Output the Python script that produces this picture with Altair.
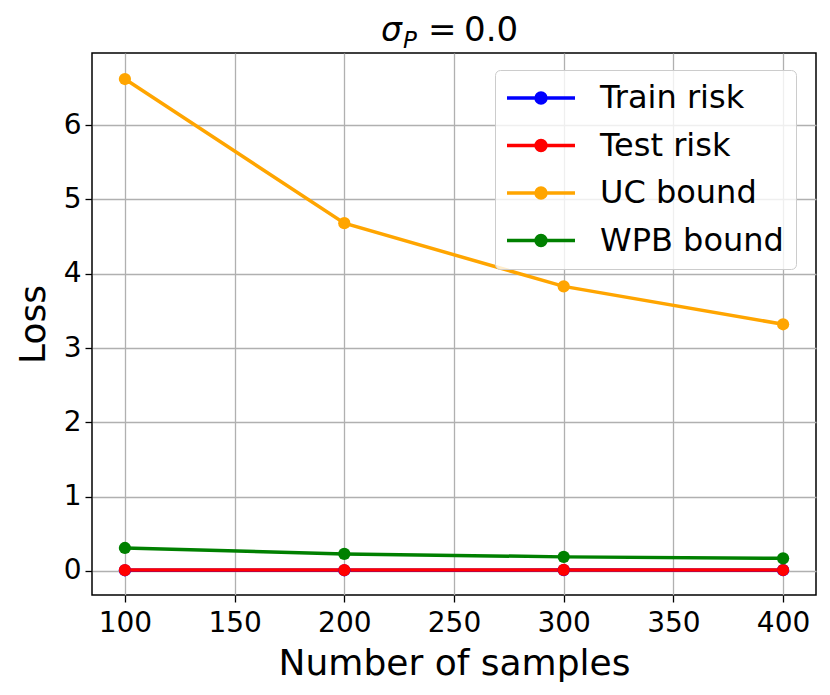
import altair as alt
import pandas as pd

samples = [100, 200, 300, 400]
train_risk = [0.010, 0.010, 0.012, 0.011]
test_risk = [0.012, 0.012, 0.014, 0.013]
uc_bound = [6.62, 4.68, 3.83, 3.32]
wpb_bound = [0.31, 0.23, 0.19, 0.17]
series_names = ["Train risk", "Test risk", "UC bound", "WPB bound"]
series_colors = ["#0000ff", "#ff0000", "#ffa500", "#008000"]
x_ticks = [100, 150, 200, 250, 300, 350, 400]
y_ticks = [0, 1, 2, 3, 4, 5, 6]

rows = []
for name, vals in zip(series_names, [train_risk, test_risk, uc_bound, wpb_bound]):
    for s, v in zip(samples, vals):
        rows.append({"samples": s, "loss": v, "series": name})
df = pd.DataFrame(rows)

FONT = "DejaVu Sans"

# legend symbol: a line with a filled dot (concentric rings fill the dot)
SYM = 784                    # symbol area -> unit scale = sqrt(784)/2 = 14 px
unit = (SYM ** 0.5) / 2
half_len = 34 / unit
rings = ""
for rpx in [5.0, 3.5, 2.0, 0.7]:
    r = round(rpx / unit, 4)
    rings += f"M{r},0A{r},{r},0,1,1,{-r},0A{r},{r},0,1,1,{r},0Z"
legend_path = f"M{-half_len:.4f},0L{half_len:.4f},0" + rings

legend = alt.Legend(
    title=None, orient="none", legendX=403, legendY=17,
    symbolType=legend_path, symbolSize=SYM, symbolStrokeWidth=3.4,
    symbolOpacity=1, symbolOffset=18,
    labelFont=FONT, labelFontSize=32, labelColor="black", labelOffset=43,
    labelLimit=400,
    rowPadding=15.5, padding=12,
    fillColor="rgba(255,255,255,0.8)", strokeColor="#cccccc", cornerRadius=5,
)

color = alt.Color("series:N", scale=alt.Scale(domain=series_names, range=series_colors),
                  legend=legend, sort=series_names)

x_enc = alt.X("samples:Q",
              scale=alt.Scale(domain=[85, 415], nice=False, zero=False),
              axis=alt.Axis(values=x_ticks, title="Number of samples", labelPadding=7,
                            titleY=79, titleX=362, titleBaseline="alphabetic", titleAlign="center"))
y_enc = alt.Y("loss:Q",
              scale=alt.Scale(domain=[-0.323, 6.97], nice=False, zero=False),
              axis=alt.Axis(values=y_ticks, title="Loss", labelPadding=4,
                            titleX=-48, titleY=271, titleAngle=270,
                            titleBaseline="alphabetic", titleAlign="center"))

base = alt.Chart(df)
lines = base.mark_line(strokeWidth=3.5).encode(x=x_enc, y=y_enc, color=color, detail="series:N")
points = base.mark_point(filled=True, size=150, opacity=1).encode(x=x_enc, y=y_enc, color=color)

one = pd.DataFrame({"k": [0]})
def title_text(txt, x, y, size, style="normal"):
    return alt.Chart(one).mark_text(text=txt, font=FONT, fontSize=size, fontStyle=style,
                                    align="left", baseline="alphabetic", color="black").encode(
        x=alt.value(x), y=alt.value(y))

t_sigma = title_text("σ", 289, -12, 33, "italic")
t_p = title_text("P", 311, -5, 23, "italic")
t_eq = title_text("=", 336, -12, 34)
t_num = title_text("0.0", 372, -12, 34)

chart = alt.layer(lines, points, t_sigma, t_p, t_eq, t_num).properties(
    width=724, height=542,
    autosize=alt.AutoSizeParams(type="none"),
    padding={"left": 84, "top": 45, "right": 6, "bottom": 90},
).configure_view(
    stroke="black", strokeWidth=1.5
).configure_axis(
    domain=False, grid=True, gridColor="#b0b0b0", gridWidth=1.3,
    tickColor="black", tickSize=7, tickWidth=1.3,
    labelFont=FONT, labelFontSize=28, labelColor="black",
    titleFont=FONT, titleFontSize=36, titleFontWeight="normal", titleColor="black",
)

chart.save("out.html", embed_options={"renderer": "svg", "actions": False})
